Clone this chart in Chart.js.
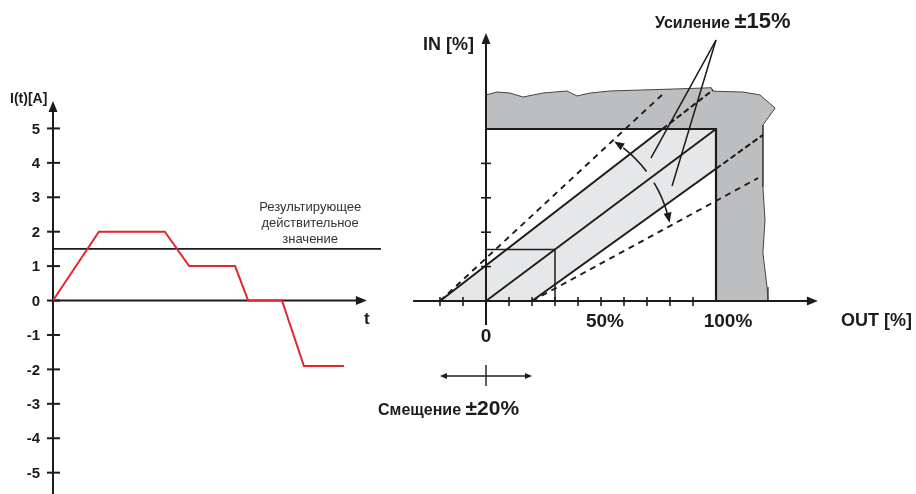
<!DOCTYPE html>
<html>
<head>
<meta charset="utf-8">
<script src="https://cdn.jsdelivr.net/npm/chart.js@4.4.1/dist/chart.umd.min.js"></script>
<style>
  html, body { margin: 0; padding: 0; background: #fff; }
  #wrap { position: relative; width: 916px; height: 494px; }
  canvas { position: absolute; left: 0; top: 0; }
</style>
</head>
<body>
<div id="wrap">
  <canvas id="leftChart" width="916" height="494"></canvas>
  <canvas id="rightChart" width="916" height="494"></canvas>
</div>
<script>
// --- left diagram: current over time ---
const timePoints = [0, 14.0, 34.1, 41.5, 55.5, 59.5, 69.8, 76.5, 88.7]
const currentValues = [0, 2, 2, 1, 1, 0, 0, -1.9, -1.9]
const rmsValue = 1.5
const rmsSpan = [0, 100]
const currentTicks = [-5, -4, -3, -2, -1, 0, 1, 2, 3, 4, 5]
const rmsLabel = ['Результирующее', 'действительное', 'значение']

// --- right diagram: IN [%] vs OUT [%] ---
const outTicks = [-20, -10, 0, 10, 20, 30, 40, 50, 60, 70, 80, 90]
const inTicks = [20, 40, 60, 80]
const outLabelValues = [0, 50, 100]
const outLabels = ['0', '50%', '100%']
const idealLine = [[0, 0], [100, 100]]
const offsetUpper = [[-20, 0], [76.7, 100], [98.7, 122.7]]
const offsetLower = [[20, 0], [100, 76.9], [120.4, 96.5]]
const gainUpper = [[-20, 0], [76.5, 119.8]]
const gainLower = [[20, 0], [118.3, 71.5]]
const smallSignal = [[0, 30], [30, 30], [30, 0]]
const rangeFrame = [[0, 100], [100, 100], [100, 0]]
const offsetBand = [[-20, 0], [20, 0], [100, 76.9], [100, 100], [76.7, 100]]
const overRange = [
  [0, 100], [0, 119.8], [4.8, 121.5], [10.4, 120.9], [16.1, 118.6], [24.8, 120.9],
  [35.2, 122.1], [39.6, 119.2], [45.2, 120.9], [53.9, 122.1], [68.3, 122.7],
  [83.0, 123.3], [98.0, 124.0], [98.5, 122.0], [111.7, 121.5], [119.1, 119.8],
  [125.7, 112.2], [120.4, 102.3], [120.4, 66.3], [121.3, 47.1], [120.4, 27.9],
  [122.2, 8.1], [122.6, 0], [100, 0], [100, 100]
]
const gainLeaderFrom = [100, 151.7]
const gainLeaderTo = [[71.7, 83.1], [80.9, 66.9]]
const offsetSpan = [-20, 20]
const offsetArrowAt = -43.6
const gainArcCenter = [25.7, 30.8]

const INK = '#1c1c1c'
const FONT = '"Liberation Sans", Arial, sans-serif'
const xy = arr => arr.map(([x, y]) => ({ x, y }))

function seg(ctx, x1, y1, x2, y2) {
  ctx.beginPath()
  ctx.moveTo(x1, y1)
  ctx.lineTo(x2, y2)
  ctx.stroke()
}

function arrowHead(ctx, tx, ty, dx, dy, len = 11, half = 4.5) {
  const bx = tx - dx * len, by = ty - dy * len
  ctx.beginPath()
  ctx.moveTo(tx, ty)
  ctx.lineTo(bx - dy * half, by + dx * half)
  ctx.lineTo(bx + dy * half, by - dx * half)
  ctx.closePath()
  ctx.fill()
}

function textRun(ctx, parts, x, y) {
  ctx.textAlign = 'left'
  ctx.textBaseline = 'alphabetic'
  parts.forEach(([txt, font]) => {
    ctx.font = font
    ctx.fillText(txt, x, y)
    x += ctx.measureText(txt).width
  })
}

const leftAxes = {
  id: 'leftAxes',
  beforeDatasetsDraw(chart) {
    const { ctx, scales: { x, y } } = chart
    const x0 = x.getPixelForValue(0), y0 = y.getPixelForValue(0)
    ctx.save()
    ctx.strokeStyle = INK
    ctx.fillStyle = INK
    ctx.lineWidth = 2

    const yTop = y.getPixelForValue(5.8)
    seg(ctx, x0, y.bottom, x0, yTop + 8)
    arrowHead(ctx, x0, yTop, 0, -1)
    const xEnd = x.getPixelForValue(95.7)
    seg(ctx, x0, y0, xEnd - 8, y0)
    arrowHead(ctx, xEnd, y0, 1, 0)

    ctx.font = 'bold 15px ' + FONT
    ctx.textAlign = 'right'
    ctx.textBaseline = 'middle'
    currentTicks.forEach(v => {
      const py = y.getPixelForValue(v)
      seg(ctx, x0 - 6, py, x0 + 7, py)
      ctx.fillText(String(v), x0 - 13, py + 1)
    })

    ctx.font = 'bold 14px ' + FONT
    ctx.textAlign = 'left'
    ctx.textBaseline = 'alphabetic'
    ctx.fillText('I(t)[A]', 10, yTop + 2)
    ctx.font = 'bold 17px ' + FONT
    ctx.textAlign = 'center'
    ctx.fillText('t', xEnd, y0 + 23)

    ctx.fillStyle = '#333'
    ctx.font = '13px ' + FONT
    ctx.textBaseline = 'middle'
    const lx = x.getPixelForValue(78.4), ly = y.getPixelForValue(2.7)
    rmsLabel.forEach((s, i) => ctx.fillText(s, lx, ly + i * 16))
    ctx.restore()
  }
}

new Chart(document.getElementById('leftChart'), {
  type: 'scatter',
  data: {
    datasets: [
      {
        data: timePoints.map((t, i) => ({ x: t, y: currentValues[i] })),
        showLine: true,
        borderColor: '#e4262b',
        borderWidth: 2,
        pointRadius: 0
      },
      {
        data: rmsSpan.map(t => ({ x: t, y: rmsValue })),
        showLine: true,
        borderColor: INK,
        borderWidth: 1.6,
        pointRadius: 0
      }
    ]
  },
  options: {
    responsive: false,
    animation: false,
    layout: { padding: { left: 53, right: 535, top: 94, bottom: 0 } },
    scales: {
      x: { type: 'linear', min: 0, max: 100, display: false },
      y: { min: -5.62, max: 6, display: false }
    },
    plugins: { legend: { display: false }, tooltip: { enabled: false } }
  },
  plugins: [leftAxes]
})

const rightAxes = {
  id: 'rightAxes',
  afterDatasetsDraw(chart) {
    const { ctx, scales: { x, y } } = chart
    const X = v => x.getPixelForValue(v), Y = v => y.getPixelForValue(v)
    ctx.save()
    ctx.strokeStyle = INK
    ctx.fillStyle = INK
    ctx.lineWidth = 2

    // axes
    seg(ctx, X(-31.7), Y(0), X(144.3) - 8, Y(0))
    arrowHead(ctx, X(144.3), Y(0), 1, 0)
    seg(ctx, X(0), Y(-14), X(0), Y(155.8) + 8)
    arrowHead(ctx, X(0), Y(155.8), 0, -1)
    ctx.lineWidth = 1.6
    outTicks.forEach(v => seg(ctx, X(v), Y(0) - 4, X(v), Y(0) + 5))
    inTicks.forEach(v => seg(ctx, X(0) - 5, Y(v), X(0) + 5, Y(v)))

    // offset range arrow
    const ay = Y(offsetArrowAt)
    ctx.lineWidth = 1.4
    seg(ctx, X(offsetSpan[0]) + 5, ay, X(offsetSpan[1]) - 5, ay)
    arrowHead(ctx, X(offsetSpan[0]), ay, -1, 0, 7, 3)
    arrowHead(ctx, X(offsetSpan[1]), ay, 1, 0, 7, 3)
    seg(ctx, X(0), ay - 11, X(0), ay + 10)

    // gain arcs
    const cx = X(gainArcCenter[0]), cy = Y(gainArcCenter[1]), r = 127
    const rad = d => d * Math.PI / 180
    ctx.lineWidth = 1.6
    ctx.beginPath()
    ctx.arc(cx, cy, r, rad(-37), rad(-52), true)
    ctx.stroke()
    let a = rad(-57)
    arrowHead(ctx, cx + r * Math.cos(a), cy + r * Math.sin(a), Math.sin(a), -Math.cos(a), 10, 4)
    ctx.beginPath()
    ctx.arc(cx, cy, r, rad(-31), rad(-16), false)
    ctx.stroke()
    a = rad(-11.5)
    arrowHead(ctx, cx + r * Math.cos(a), cy + r * Math.sin(a), -Math.sin(a), Math.cos(a), 10, 4)

    // labels
    ctx.font = 'bold 19px ' + FONT
    ctx.textAlign = 'center'
    ctx.textBaseline = 'middle'
    const labelShift = [0, 4, 12]
    const labelDrop = [36, 21, 21]
    outLabels.forEach((s, i) => {
      ctx.fillText(s, X(outLabelValues[i]) + labelShift[i], Y(0) + labelDrop[i])
    })
    ctx.font = 'bold 18px ' + FONT
    ctx.textAlign = 'right'
    ctx.fillText('OUT [%]', 912, Y(0) + 20)
    ctx.fillText('IN [%]', X(0) - 12, Y(149))
    textRun(ctx, [['Усиление ', 'bold 16px ' + FONT], ['±15%', 'bold 22px ' + FONT]], 655, 28)
    textRun(ctx, [['Смещение ', 'bold 16px ' + FONT], ['±20%', 'bold 21px ' + FONT]], 378, 415)
    ctx.restore()
  }
}

const lineSet = (pts, extra) => Object.assign({
  data: xy(pts),
  showLine: true,
  borderColor: INK,
  borderWidth: 1.9,
  pointRadius: 0,
  order: 1
}, extra)

new Chart(document.getElementById('rightChart'), {
  type: 'scatter',
  data: {
    datasets: [
      lineSet(overRange, { fill: 'shape', backgroundColor: '#bdbec0', borderColor: '#444', borderWidth: 1, order: 10 }),
      lineSet(offsetBand, { fill: 'shape', backgroundColor: '#e6e7e8', borderWidth: 0, order: 9 }),
      lineSet(rangeFrame, { borderWidth: 2.2 }),
      lineSet(smallSignal, { borderWidth: 1.5 }),
      lineSet(idealLine),
      lineSet(offsetUpper, { borderWidth: 2.1, segment: { borderDash: c => c.p0DataIndex === 1 ? [6, 3] : undefined } }),
      lineSet(offsetLower, { borderWidth: 2.1, segment: { borderDash: c => c.p0DataIndex === 1 ? [6, 3] : undefined } }),
      lineSet(gainUpper, { borderDash: [6, 5] }),
      lineSet(gainLower, { borderDash: [6, 5] }),
      lineSet([gainLeaderFrom, gainLeaderTo[0]], { borderWidth: 1.5 }),
      lineSet([gainLeaderFrom, gainLeaderTo[1]], { borderWidth: 1.5 })
    ]
  },
  options: {
    responsive: false,
    animation: false,
    layout: { padding: { left: 412.4, right: 2.2, top: 8.6, bottom: 89.8 } },
    scales: {
      x: { type: 'linear', min: -32, max: 186, display: false },
      y: { min: -60, max: 170, display: false }
    },
    plugins: { legend: { display: false }, tooltip: { enabled: false } }
  },
  plugins: [rightAxes]
})
</script>
</body>
</html>
